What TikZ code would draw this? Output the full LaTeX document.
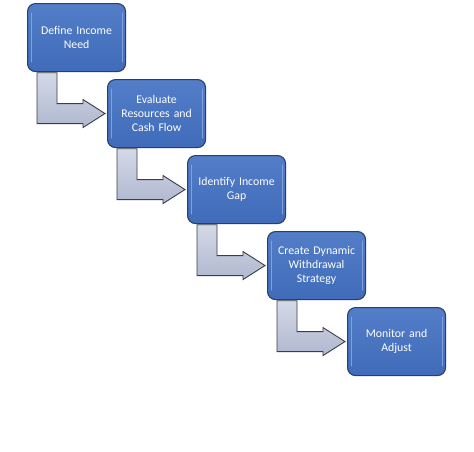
\documentclass[tikz,border=0pt]{standalone}
\usepackage{fontspec}
\setmainfont{Carlito}
\usetikzlibrary{calc}
\definecolor{boxfill}{HTML}{4472C4}
\definecolor{boxedge}{HTML}{2B3F66}
\definecolor{boxhi}{HTML}{7FA2DE}
\definecolor{arrtop}{HTML}{D4D9E8}
\definecolor{arrbot}{HTML}{B0B8CF}
\definecolor{arredge}{HTML}{3A3E48}
\begin{document}
\begin{tikzpicture}[x=1pt,y=-1pt,
  stepbox/.style={draw=boxedge, line width=1.1pt, rounded corners=8pt,
    top color=boxfill!92!white, bottom color=boxfill!94!black,
    minimum width=98pt, minimum height=68pt, inner sep=0pt,
    text=white, font=\fontsize{11.8}{13.8}\selectfont, align=center, text width=92pt},
  bentarrow/.style={draw=arredge, line width=0.9pt, top color=arrtop, bottom color=arrbot, line join=miter}]
\useasboundingbox (0,0) rectangle (474,451);
\fill[white] (0,0) rectangle (474,451);
\foreach \i/\t in {0/{Define Income\\Need},1/{Evaluate\\Resources and\\Cash Flow},2/{Identify Income\\Gap},3/{Create Dynamic\\Withdrawal\\Strategy},4/{Monitor and\\Adjust}}{
  \pgfmathsetmacro{\L}{27+80*\i}
  \pgfmathsetmacro{\T}{3+76*\i}
  \node[stepbox, anchor=north west] (b\i) at (\L,\T) {\t};
  \draw[boxhi, line width=0.7pt, line cap=round] ($(b\i.north west)+(4,10)$) -- ($(b\i.south west)+(4,-10)$);
  \draw[boxhi, line width=0.7pt, line cap=round] ($(b\i.north east)+(-4,10)$) -- ($(b\i.south east)+(-4,-10)$);
}
\foreach \i/\j in {0/1,1/2,2/3,3/4}{
  \coordinate (s\i) at ($(b\i.south west)+(10,0.6)$);
  \coordinate (t\i) at ($(b\j.west)+(-2,0)$);
  \draw[bentarrow]
    (s\i) -- ++(20,0) |- ($(t\i)+(-22,-10)$) -- ++(0,-4) -- (t\i)
    -- ($(t\i)+(-22,14)$) -- ++(0,-4) -| (s\i) -- cycle;
}
\end{tikzpicture}
\end{document}
